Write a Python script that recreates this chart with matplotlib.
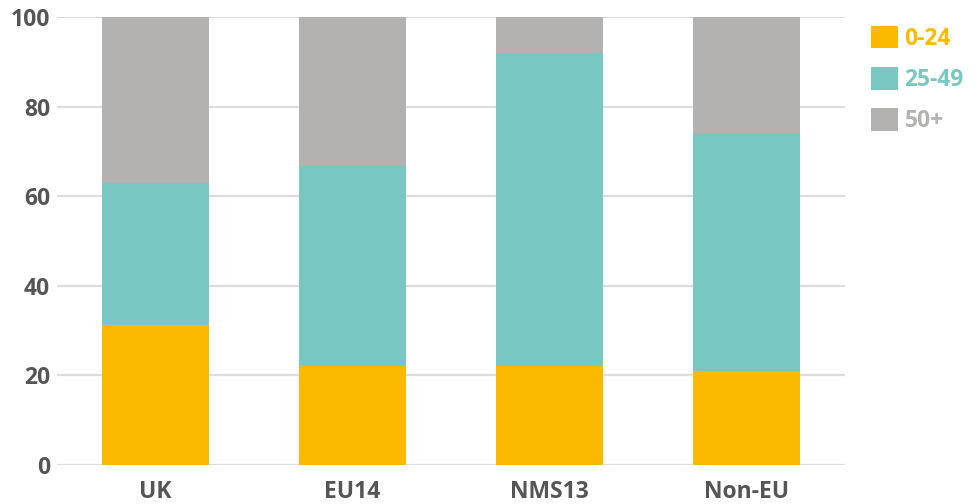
import matplotlib.pyplot as plt
import numpy as np

categories = ['UK', 'EU14', 'NMS13', 'Non-EU']
age_0_24 = [31.3, 22.2, 22.2, 21.0]
age_25_49 = [31.6, 44.5, 69.8, 52.9]
age_50_plus = [37.1, 33.3, 8.0, 26.1]
series_labels = ['0-24', '25-49', '50+']
colors = ['#FBB900', '#79C7C3', '#B3B2B1']

plt.rcParams['font.family'] = ['Open Sans', 'DejaVu Sans']
txt = '#555555'

fig = plt.figure(figsize=(9.8, 5.04), dpi=100)
ax = fig.add_axes([0.058, 0.0774, 0.804, 0.889])

x = np.arange(len(categories))
bottom = np.zeros(len(categories))
handles = []
for vals, lab, c in zip([age_0_24, age_25_49, age_50_plus], series_labels, colors):
    b = ax.bar(x, vals, 0.545, bottom=bottom, color=c, label=lab, zorder=3)
    handles.append(b)
    bottom += np.array(vals)

ax.set_xlim(-0.5, 3.5)
ax.set_ylim(0, 100)
ax.set_yticks([0, 20, 40, 60, 80, 100])
ax.yaxis.grid(True, color='#dddddd', linewidth=1.6, zorder=0)
ax.set_axisbelow(True)
for s in ax.spines.values():
    s.set_visible(False)
ax.set_xticks(x)
ax.set_xticklabels(categories)
ax.tick_params(axis='both', length=0, labelsize=16.5, labelcolor=txt)
ax.tick_params(axis='x', pad=11)
ax.tick_params(axis='y', pad=5)
for t in ax.get_xticklabels() + ax.get_yticklabels():
    t.set_fontweight('bold')

leg = fig.legend(handles=handles, labels=series_labels, loc='upper left',
                 bbox_to_anchor=(0.868, 0.99), frameon=False,
                 handlelength=1.15, handleheight=1.15, handletextpad=0.3,
                 labelspacing=0.7, prop={'size': 16.5, 'weight': 'bold'})
for t, c in zip(leg.get_texts(), colors):
    t.set_color(c)

fig.savefig('out.png', dpi=100)
